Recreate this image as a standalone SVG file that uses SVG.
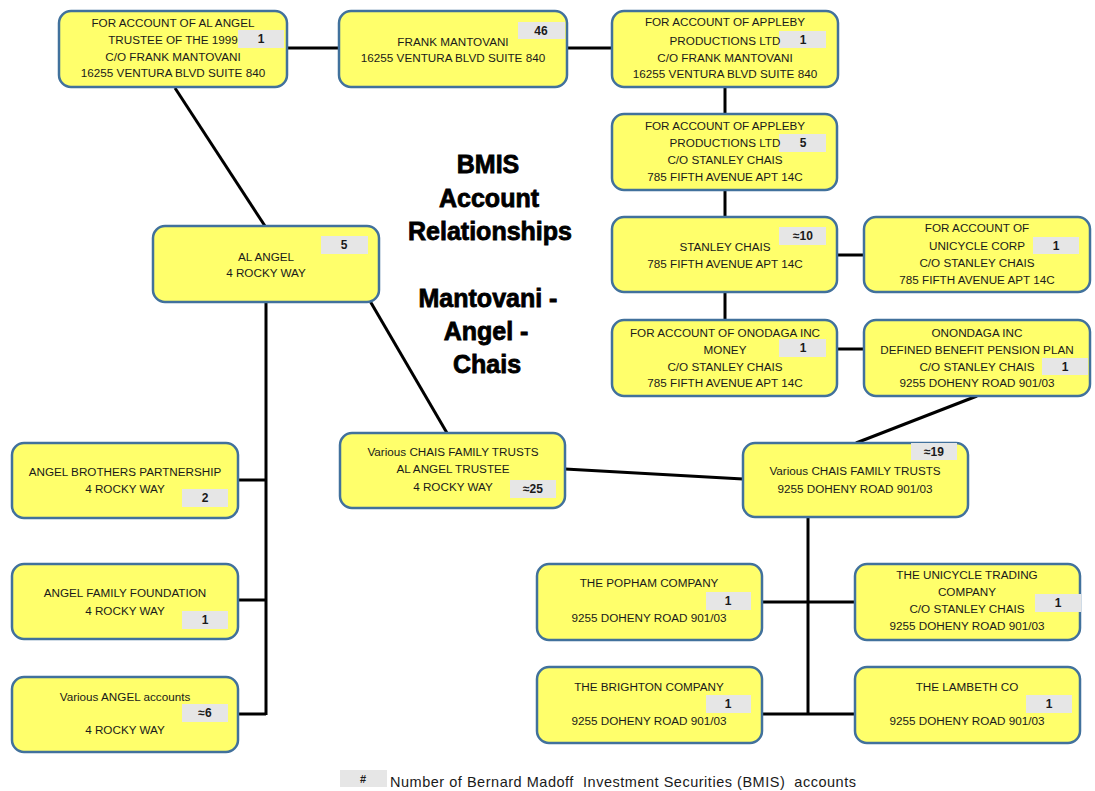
<svg xmlns="http://www.w3.org/2000/svg" width="1095" height="791" viewBox="0 0 1095 791">
<style>
.box{fill:#FFFF6B;stroke:#41719C;stroke-width:2.5}
.bd{fill:#E6E6E6}
.t{font-family:"Liberation Sans",Arial,sans-serif;font-size:11.7px;fill:#1a1a1a;text-anchor:middle}
.b{font-family:"Liberation Sans",Arial,sans-serif;font-size:12px;font-weight:bold;fill:#1a1a1a;text-anchor:middle}
.ttl{font-family:"Liberation Sans",Arial,sans-serif;font-size:25px;font-weight:bold;fill:#000;stroke:#000;stroke-width:0.8;text-anchor:middle}
.c{stroke:#000;stroke-width:3;fill:none}
</style>
<rect width="1095" height="791" fill="#fff"/>
<g id="connectors">
<line class="c" x1="287" y1="48" x2="339" y2="48"/>
<line class="c" x1="567" y1="48" x2="612" y2="48"/>
<line class="c" x1="725" y1="87" x2="725" y2="114"/>
<line class="c" x1="725" y1="190" x2="725" y2="217"/>
<line class="c" x1="837" y1="255" x2="864" y2="255"/>
<line class="c" x1="725" y1="292" x2="725" y2="320"/>
<line class="c" x1="837" y1="349" x2="864" y2="349"/>
<line class="c" x1="977" y1="396" x2="856" y2="443"/>
<line class="c" x1="175" y1="88" x2="265" y2="226"/>
<line class="c" x1="370" y1="301" x2="447" y2="433"/>
<line class="c" x1="266" y1="302" x2="266" y2="715"/>
<line class="c" x1="238" y1="480" x2="266" y2="480"/>
<line class="c" x1="238" y1="600" x2="266" y2="600"/>
<line class="c" x1="238" y1="714" x2="266" y2="714"/>
<line class="c" x1="565" y1="469" x2="743" y2="479"/>
<line class="c" x1="808" y1="517" x2="808" y2="714"/>
<line class="c" x1="762" y1="602" x2="855" y2="602"/>
<line class="c" x1="762" y1="714" x2="855" y2="714"/>
</g>
<g id="title">
<text class="ttl" x="488" y="173">BMIS</text>
<text class="ttl" x="489" y="207">Account</text>
<text class="ttl" x="490" y="240">Relationships</text>
<text class="ttl" x="488" y="307">Mantovani -</text>
<text class="ttl" x="486" y="340">Angel -</text>
<text class="ttl" x="487" y="373">Chais</text>
</g>
<g id="n1">
<rect class="box" x="59" y="11" width="228" height="76" rx="12"/>
<rect class="bd" x="238" y="30" width="46" height="18"/>
<text class="b" x="261" y="43">1</text>
<text class="t" x="173" y="27">FOR ACCOUNT OF AL ANGEL</text>
<text class="t" x="173" y="44">TRUSTEE OF THE 1999</text>
<text class="t" x="173" y="61">C/O FRANK MANTOVANI</text>
<text class="t" x="173" y="77">16255 VENTURA BLVD SUITE 840</text>
</g>
<g id="n2">
<rect class="box" x="339" y="11" width="228" height="76" rx="12"/>
<rect class="bd" x="518" y="22" width="47" height="17"/>
<text class="b" x="541" y="35">46</text>
<text class="t" x="453" y="46">FRANK MANTOVANI</text>
<text class="t" x="453" y="62">16255 VENTURA BLVD SUITE 840</text>
</g>
<g id="n3">
<rect class="box" x="612" y="11" width="226" height="76" rx="12"/>
<rect class="bd" x="779" y="31" width="47" height="17"/>
<text class="b" x="803" y="44">1</text>
<text class="t" x="725" y="26">FOR ACCOUNT OF APPLEBY</text>
<text class="t" x="725" y="45">PRODUCTIONS LTD</text>
<text class="t" x="725" y="62">C/O FRANK MANTOVANI</text>
<text class="t" x="725" y="78">16255 VENTURA BLVD SUITE 840</text>
</g>
<g id="n4">
<rect class="box" x="612" y="114" width="225" height="76" rx="12"/>
<rect class="bd" x="779" y="134" width="47" height="18"/>
<text class="b" x="803" y="147">5</text>
<text class="t" x="725" y="130">FOR ACCOUNT OF APPLEBY</text>
<text class="t" x="725" y="147">PRODUCTIONS LTD</text>
<text class="t" x="725" y="164">C/O STANLEY CHAIS</text>
<text class="t" x="725" y="181">785 FIFTH AVENUE APT 14C</text>
</g>
<g id="n5">
<rect class="box" x="612" y="217" width="225" height="75" rx="12"/>
<rect class="bd" x="779" y="227" width="47" height="18"/>
<text class="b" x="803" y="240">≈10</text>
<text class="t" x="725" y="251">STANLEY CHAIS</text>
<text class="t" x="725" y="268">785 FIFTH AVENUE APT 14C</text>
</g>
<g id="n6">
<rect class="box" x="864" y="217" width="226" height="75" rx="12"/>
<rect class="bd" x="1033" y="237" width="46" height="17"/>
<text class="b" x="1056" y="250">1</text>
<text class="t" x="977" y="232">FOR ACCOUNT OF</text>
<text class="t" x="977" y="250">UNICYCLE CORP</text>
<text class="t" x="977" y="267">C/O STANLEY CHAIS</text>
<text class="t" x="977" y="284">785 FIFTH AVENUE APT 14C</text>
</g>
<g id="n7">
<rect class="box" x="612" y="320" width="225" height="76" rx="12"/>
<rect class="bd" x="779" y="339" width="47" height="18"/>
<text class="b" x="803" y="352">1</text>
<text class="t" x="725" y="337">FOR ACCOUNT OF ONODAGA INC</text>
<text class="t" x="725" y="354">MONEY</text>
<text class="t" x="725" y="371">C/O STANLEY CHAIS</text>
<text class="t" x="725" y="387">785 FIFTH AVENUE APT 14C</text>
</g>
<g id="n8">
<rect class="box" x="864" y="320" width="226" height="76" rx="12"/>
<rect class="bd" x="1042" y="358" width="46" height="17"/>
<text class="b" x="1065" y="371">1</text>
<text class="t" x="977" y="337">ONONDAGA INC</text>
<text class="t" x="977" y="354">DEFINED BENEFIT PENSION PLAN</text>
<text class="t" x="977" y="371">C/O STANLEY CHAIS</text>
<text class="t" x="977" y="387">9255 DOHENY ROAD 901/03</text>
</g>
<g id="n9">
<rect class="box" x="153" y="226" width="226" height="76" rx="12"/>
<rect class="bd" x="321" y="236" width="47" height="18"/>
<text class="b" x="344" y="249">5</text>
<text class="t" x="266" y="261">AL ANGEL</text>
<text class="t" x="266" y="277">4 ROCKY WAY</text>
</g>
<g id="n10">
<rect class="box" x="12" y="443" width="226" height="75" rx="12"/>
<rect class="bd" x="182" y="489" width="46" height="18"/>
<text class="b" x="205" y="502">2</text>
<text class="t" x="125" y="476">ANGEL BROTHERS PARTNERSHIP</text>
<text class="t" x="125" y="493">4 ROCKY WAY</text>
</g>
<g id="n11">
<rect class="box" x="12" y="564" width="226" height="75" rx="12"/>
<rect class="bd" x="182" y="611" width="46" height="18"/>
<text class="b" x="205" y="624">1</text>
<text class="t" x="125" y="597">ANGEL FAMILY FOUNDATION</text>
<text class="t" x="125" y="615">4 ROCKY WAY</text>
</g>
<g id="n12">
<rect class="box" x="12" y="677" width="226" height="75" rx="12"/>
<rect class="bd" x="182" y="704" width="46" height="18"/>
<text class="b" x="205" y="717">≈6</text>
<text class="t" x="125" y="701">Various ANGEL accounts</text>
<text class="t" x="125" y="734">4 ROCKY WAY</text>
</g>
<g id="n13">
<rect class="box" x="340" y="433" width="225" height="75" rx="12"/>
<rect class="bd" x="510" y="480" width="46" height="18"/>
<text class="b" x="533" y="493">≈25</text>
<text class="t" x="453" y="456">Various CHAIS FAMILY TRUSTS</text>
<text class="t" x="453" y="473">AL ANGEL TRUSTEE</text>
<text class="t" x="453" y="491">4 ROCKY WAY</text>
</g>
<g id="n14">
<rect class="box" x="743" y="443" width="225" height="74" rx="12"/>
<rect class="bd" x="911" y="443" width="46" height="17"/>
<text class="b" x="934" y="456">≈19</text>
<text class="t" x="855" y="475">Various CHAIS FAMILY TRUSTS</text>
<text class="t" x="855" y="493">9255 DOHENY ROAD 901/03</text>
</g>
<g id="n15">
<rect class="box" x="537" y="564" width="225" height="76" rx="12"/>
<rect class="bd" x="706" y="592" width="45" height="18"/>
<text class="b" x="728" y="605">1</text>
<text class="t" x="649" y="587">THE POPHAM COMPANY</text>
<text class="t" x="649" y="622">9255 DOHENY ROAD 901/03</text>
</g>
<g id="n16">
<rect class="box" x="855" y="564" width="225" height="76" rx="12"/>
<rect class="bd" x="1035" y="594" width="46" height="18"/>
<text class="b" x="1058" y="607">1</text>
<text class="t" x="967" y="579">THE UNICYCLE TRADING</text>
<text class="t" x="967" y="596">COMPANY</text>
<text class="t" x="967" y="613">C/O STANLEY CHAIS</text>
<text class="t" x="967" y="630">9255 DOHENY ROAD 901/03</text>
</g>
<g id="n17">
<rect class="box" x="537" y="667" width="225" height="76" rx="12"/>
<rect class="bd" x="706" y="695" width="45" height="18"/>
<text class="b" x="728" y="708">1</text>
<text class="t" x="649" y="691">THE BRIGHTON COMPANY</text>
<text class="t" x="649" y="725">9255 DOHENY ROAD 901/03</text>
</g>
<g id="n18">
<rect class="box" x="855" y="667" width="225" height="76" rx="12"/>
<rect class="bd" x="1026" y="695" width="46" height="18"/>
<text class="b" x="1049" y="708">1</text>
<text class="t" x="967" y="691">THE LAMBETH CO</text>
<text class="t" x="967" y="725">9255 DOHENY ROAD 901/03</text>
</g>
<g id="legend">
<rect class="bd" x="340" y="770" width="47" height="17"/>
<text class="b" x="363" y="783" style="font-size:11px">#</text>
<text x="390" y="787" textLength="466" lengthAdjust="spacing" xml:space="preserve" style="font-family:'Liberation Sans',Arial,sans-serif;font-size:14.5px;fill:#1a1a1a">Number of Bernard Madoff  Investment Securities (BMIS)  accounts</text>
</g>
</svg>
